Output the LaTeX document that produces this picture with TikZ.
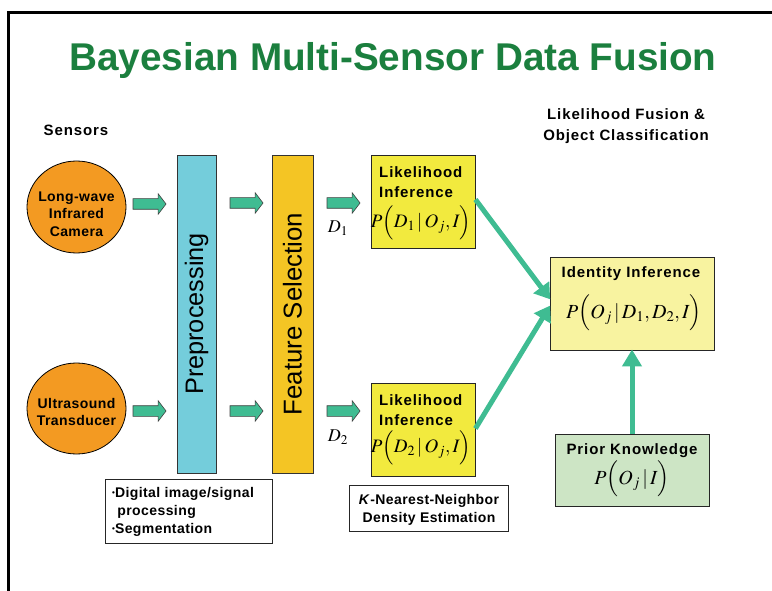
\documentclass[tikz,border=0pt]{standalone}
\usepackage{mathptmx}
\usepackage{fontspec}
\setmainfont{Liberation Sans}
\newfontfamily\lblfont[LetterSpace=6]{Liberation Sans}
\newfontfamily\ellfont[LetterSpace=3]{Liberation Sans}
\usetikzlibrary{shapes.arrows,shapes.geometric,arrows.meta}
\definecolor{titlegreen}{HTML}{1B7F3E}
\definecolor{sensororange}{HTML}{F39A22}
\definecolor{precyan}{HTML}{74CDDB}
\definecolor{featyellow}{HTML}{F4C524}
\definecolor{likyellow}{HTML}{F2EA3E}
\definecolor{idyellow}{HTML}{F8F3A0}
\definecolor{priorgreen}{HTML}{CDE5C5}
\definecolor{arrowgreen}{HTML}{3FBC92}
\tikzset{
  blockarrow/.style={single arrow, draw=black!75, line width=0.6pt, fill=arrowgreen,
    minimum height=33pt, single arrow head extend=5pt,
    single arrow tip angle=105, inner sep=0pt, outer sep=0pt},
  sensor/.style={ellipse, draw=black, line width=0.8pt, fill=sensororange,
    minimum width=99pt, minimum height=92pt, inner sep=0pt},
  tallbox/.style={rectangle, draw=black!80, line width=0.8pt, minimum height=318pt},
  card/.style={rectangle, draw=black!85, line width=0.9pt, inner sep=0pt},
  note/.style={rectangle, draw=black!85, line width=0.8pt, fill=white, inner sep=0pt},
  txt/.style={inner sep=0pt, align=left},
  lbl/.style={txt, font=\lblfont\fontsize{15}{20}\selectfont\bfseries},
  ell/.style={txt, align=center, font=\ellfont\fontsize{14}{17.5}\selectfont\bfseries},
  notefont/.style={txt, font=\ellfont\fontsize{14}{18}\selectfont\bfseries},
  fuse/.style={draw=arrowgreen, line width=5pt, -{Triangle[length=15pt,width=19pt]}, shorten >=-1pt},
}
\newcommand{\shaft}{\rule{0pt}{10pt}}
\newcommand{\smbul}{{\fontsize{8}{8}\selectfont\raisebox{2.5pt}{\textbullet}}}
\begin{document}
\begin{tikzpicture}[x=1pt,y=-1pt]
\useasboundingbox (0,0) rectangle (772,591);
% frame
\coordinate (fl) at (8,591);
\coordinate (ftl) at (8,13);
\coordinate (fr) at (772,13);
\draw[line width=3pt] (fl) -- (ftl) -- (fr);
% title
\node[txt, text=titlegreen, font=\fontsize{38.7}{40}\selectfont\bfseries] (title) at (393,60) {Bayesian Multi-Sensor Data Fusion};
\node[lbl] (sensors) at (76,130) {Sensors};
\node[lbl, align=center, font=\lblfont\fontsize{15}{21}\selectfont\bfseries] (fusionhd) at (626,126) {Likelihood Fusion \&\\Object Classification};
% sensors
\node[sensor] (cam) at (76.5,207) {};
\node[ell] (camtxt) at (76.5,214) {Long-wave\\Infrared\\Camera};
\node[sensor, minimum height=91pt] (ultra) at (76.5,408.5) {};
\node[ell] (ultratxt) at (76.5,412) {Ultrasound\\Transducer};
% processing columns
\node[tallbox, fill=precyan, minimum width=39pt] (pre) at (196.5,314) {};
\node[rotate=90, inner sep=0pt] (pretxt) at (196.5,314) {\fontsize{25.3}{25}\selectfont Preprocessing};
\node[tallbox, fill=featyellow, minimum width=41pt] (feat) at (292.5,314) {};
\node[rotate=90, inner sep=0pt] (feattxt) at (292.5,314) {\fontsize{25.8}{25}\selectfont Feature Selection};
% block arrows
\node[blockarrow] (a1) at (147.5,204) {\shaft};
\node[blockarrow] (a2) at (244.5,203) {\shaft};
\node[blockarrow] (a3) at (341.5,203) {\shaft};
\node[blockarrow] (b1) at (147.5,411) {\shaft};
\node[blockarrow] (b2) at (244.5,411) {\shaft};
\node[blockarrow] (b3) at (341.5,411) {\shaft};
\node[txt] (d1) at (338,228) {\fontsize{18}{18}\selectfont$D_1$};
\node[txt] (d2) at (338,437) {\fontsize{18}{18}\selectfont$D_2$};
% likelihood boxes
\node[card, fill=likyellow, minimum width=104pt, minimum height=93pt] (lik1) at (423,201.5) {};
\node[lbl, anchor=west] (lik1t) at (379,182) {Likelihood\\Inference};
\node[txt] (lik1f) at (421,223) {\fontsize{19}{19}\selectfont$P\Bigl(D_1\,|\,O_j,I\Bigr)$};
\node[card, fill=likyellow, minimum width=104pt, minimum height=93pt] (lik2) at (423,429.5) {};
\node[lbl, anchor=west] (lik2t) at (379,410.5) {Likelihood\\Inference};
\node[txt] (lik2f) at (421,448) {\fontsize{19}{19}\selectfont$P\Bigl(D_2\,|\,O_j,I\Bigr)$};
% identity
\node[card, fill=idyellow, minimum width=164pt, minimum height=93pt] (ident) at (632,303.5) {};
\node[lbl] (identt) at (631,274) {Identity Inference};
\node[txt] (identf) at (634,313) {\fontsize{20}{20}\selectfont$P\Bigl(O_j\,|\,D_1,D_2,I\Bigr)$};
% prior
\node[card, fill=priorgreen, minimum width=154pt, minimum height=72pt] (prior) at (632,470) {};
\node[lbl] (priort) at (632,451) {Prior Knowledge};
\node[txt] (priorf) at (632,479) {\fontsize{20}{20}\selectfont$P\Bigl(O_j\,|\,I\Bigr)$};
% notes
\node[note, minimum width=167pt, minimum height=64pt] (note1) at (188.5,511) {};
\node[notefont, anchor=west] (note1t) at (112,512) {\smbul Digital image/signal\\\hphantom{\smbul}\,processing\\\smbul Segmentation};
\node[note, minimum width=159pt, minimum height=46pt] (note2) at (428.5,508.5) {};
\node[notefont, align=center] (note2t) at (429,510) {\textit{K}-Nearest-Neighbor\\Density Estimation};
% fusion arrows
\draw[fuse] ([yshift=2pt]lik1.east) -- ([yshift=5pt]ident.west);
\draw[fuse] ([yshift=1pt]lik2.east) -- ([yshift=-3pt]ident.west);
\draw[fuse, -{Triangle[length=17pt,width=19pt]}] (prior.north) -- (ident.south);
\end{tikzpicture}
\end{document}
